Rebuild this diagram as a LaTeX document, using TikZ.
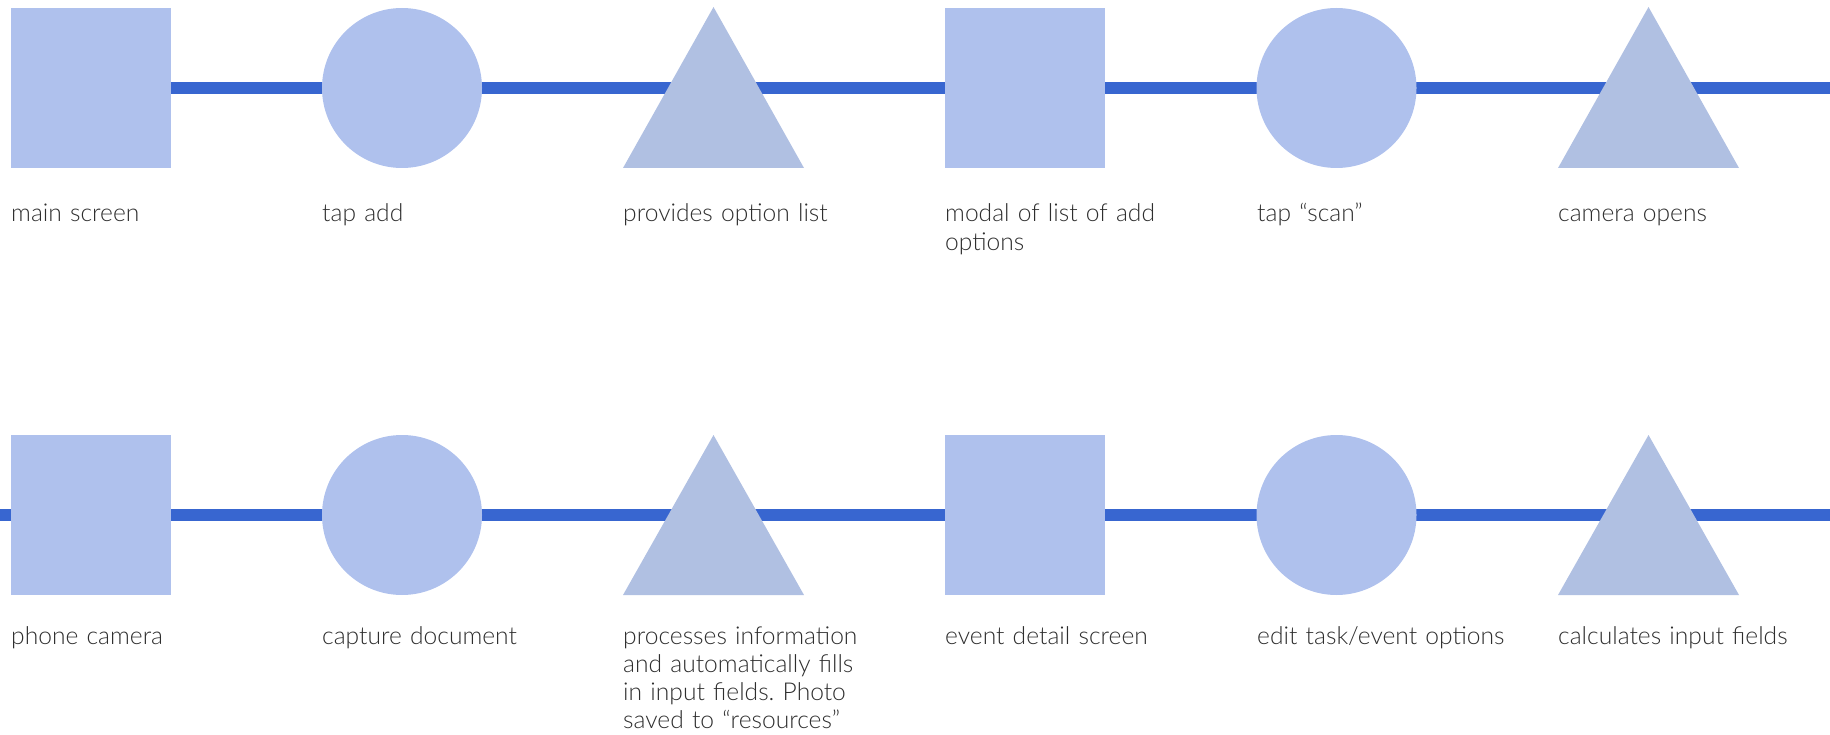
\documentclass[tikz,border=0pt]{standalone}
\usepackage{fontspec}
\setmainfont{Lato Light}
\usetikzlibrary{backgrounds}
\definecolor{shapeblue}{HTML}{AFC1ED}
\definecolor{triblue}{HTML}{B0C0E2}
\definecolor{linkblue}{HTML}{3866D0}
\definecolor{labelgray}{HTML}{2E2E2E}
\frenchspacing
\begin{document}
\begin{tikzpicture}[x=1pt,y=-1pt,
  sq/.style={rectangle, fill=shapeblue, minimum size=160pt, inner sep=0pt},
  circ/.style={circle, fill=shapeblue, minimum size=160pt, inner sep=0pt},
  tri/.style={fill=triblue},
  lbl/.style={anchor=base west, align=left, text width=300pt, inner sep=0pt, text=labelgray, font=\fontsize{24.6}{28.3}\selectfont},
  link/.style={draw=linkblue, line width=11.5pt}]
\useasboundingbox (0,0) rectangle (1830,735);

% row 1
\node[sq] (s1) at (91,88) {};
\node[circ] (c1) at (402,88) {};
\coordinate (t1) at (713.5,88);
\fill[tri] (713.5,7) -- (804,168) -- (623,168) -- cycle;
\node[sq] (s2) at (1025,88) {};
\node[circ] (c2) at (1336.5,88) {};
\coordinate (t2) at (1648.5,88);
\fill[tri] (1648.5,7) -- (1739,168) -- (1558,168) -- cycle;
\coordinate (e1) at (1830,88);

% row 2
\coordinate (e0) at (0,515);
\node[sq] (s3) at (91,515) {};
\node[circ] (c3) at (402,515) {};
\coordinate (t3) at (713.5,515);
\fill[tri] (713.5,435) -- (804,595) -- (623,595) -- cycle;
\node[sq] (s4) at (1025,515) {};
\node[circ] (c4) at (1336.5,515) {};
\coordinate (t4) at (1648.5,515);
\fill[tri] (1648.5,435) -- (1739,595) -- (1558,595) -- cycle;
\coordinate (e2) at (1830,515);

\begin{scope}[on background layer]
  \draw[link] (s1.center) -- (c1.center) -- (t1) -- (s2.center) -- (c2.center) -- (t2) -- (e1);
  \draw[link] (e0) -- (s3.center) -- (c3.center) -- (t3) -- (s4.center) -- (c4.center) -- (t4) -- (e2);
\end{scope}

% labels
\node[lbl] (l1) at (11,222) {main screen};
\node[lbl] (l2) at (322,222) {tap add};
\node[lbl] (l3) at (623,222) {provides option list};
\node[lbl] (l4) at (945,222) {modal of list of add\\options};
\node[lbl] (l5) at (1257,222) {tap “scan”};
\node[lbl] (l6) at (1558,222) {camera opens};
\node[lbl] (l7) at (11,644) {phone camera};
\node[lbl] (l8) at (322,644) {capture document};
\node[lbl] (l9) at (623,644) {processes information\\and automatically fills\\in input fields. Photo\\saved to “resources”};
\node[lbl] (l10) at (945,644) {event detail screen};
\node[lbl] (l11) at (1257,644) {edit task/event options};
\node[lbl] (l12) at (1558,644) {calculates input fields};
\end{tikzpicture}
\end{document}
